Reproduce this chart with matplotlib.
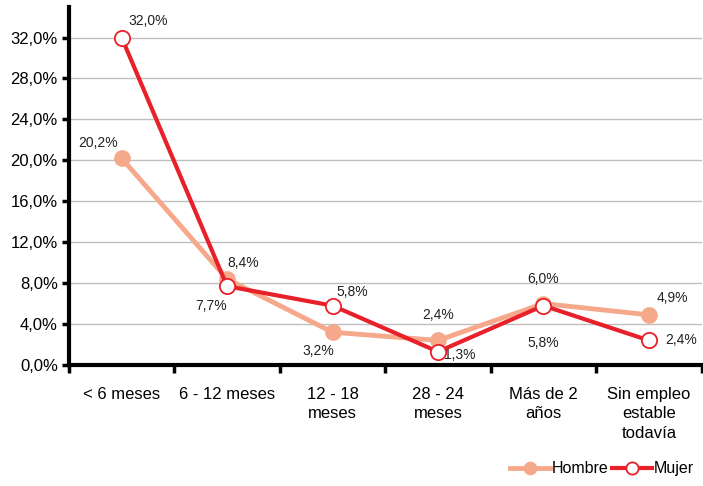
import matplotlib.pyplot as plt
import numpy as np

plt.rcParams["font.family"] = ["Liberation Sans", "DejaVu Sans"]

categorias = ["< 6 meses", "6 - 12 meses", "12 - 18\nmeses", "28 - 24\nmeses",
              "Más de 2\naños", "Sin empleo\nestable\ntodavía"]
hombre = [20.2, 8.4, 3.2, 2.4, 6.0, 4.9]
mujer = [32.0, 7.7, 5.8, 1.3, 5.8, 2.4]

# desplazamiento de las etiquetas (pixeles)
off_hombre = [(-24, 15), (16, 16), (-14, -19), (0, 25), (0, 25), (24, 17)]
off_mujer = [(27, 17), (-16, -20), (20, 14), (22, -3), (0, -37), (32, 0)]

x = np.arange(len(categorias))

fig = plt.figure(figsize=(7.03, 4.86), dpi=100)
ax = fig.add_axes([0.098, 0.249, 0.9, 0.737])

c_h = "#F5A98A"
c_m = "#E8202A"

ax.plot(x, hombre, color=c_h, lw=3.5, marker="o", ms=11, mfc=c_h, mec=c_h,
        label="Hombre", zorder=3)
ax.plot(x, mujer, color=c_m, lw=3, marker="o", ms=11, mfc="white", mec=c_m,
        mew=1.3, label="Mujer", zorder=4)

for xi, v, off in zip(x, hombre, off_hombre):
    ax.annotate(f"{v:.1f}%".replace(".", ","), (xi, v), xytext=off,
                textcoords="offset pixels", ha="center", va="center",
                fontsize=10, color="#222222")
for xi, v, off in zip(x, mujer, off_mujer):
    ax.annotate(f"{v:.1f}%".replace(".", ","), (xi, v), xytext=off,
                textcoords="offset pixels", ha="center", va="center",
                fontsize=10, color="#222222")

ax.set_xlim(-0.5, len(categorias) - 0.5)
ax.set_ylim(0, 35)
ax.set_yticks(np.arange(0, 33, 4))
ax.set_yticklabels([f"{t:.1f}%".replace(".", ",") for t in np.arange(0, 33, 4)])
ax.set_xticks(x)
ax.set_xticklabels(categorias, linespacing=1.35)
ax.set_xticks(np.arange(-0.5, len(categorias)), minor=True)
ax.tick_params(axis="x", which="major", length=0, pad=16, labelsize=12)
ax.tick_params(axis="x", which="minor", length=6, width=2.5)
ax.tick_params(axis="y", length=5, width=2.5, labelsize=12, pad=3)

ax.grid(axis="y", color="#BFBFBF", lw=1)
ax.set_axisbelow(True)
ax.spines["top"].set_visible(False)
ax.spines["right"].set_visible(False)
ax.spines["left"].set_linewidth(3)
ax.spines["bottom"].set_linewidth(3)

fig.legend(loc="lower right", bbox_to_anchor=(1.0, 0.0), ncol=2, frameon=False,
           fontsize=11.5, handlelength=2.5, handletextpad=0.1, columnspacing=0.2,
           borderaxespad=0.2, markerscale=0.8)

fig.savefig("out.png", dpi=100)
